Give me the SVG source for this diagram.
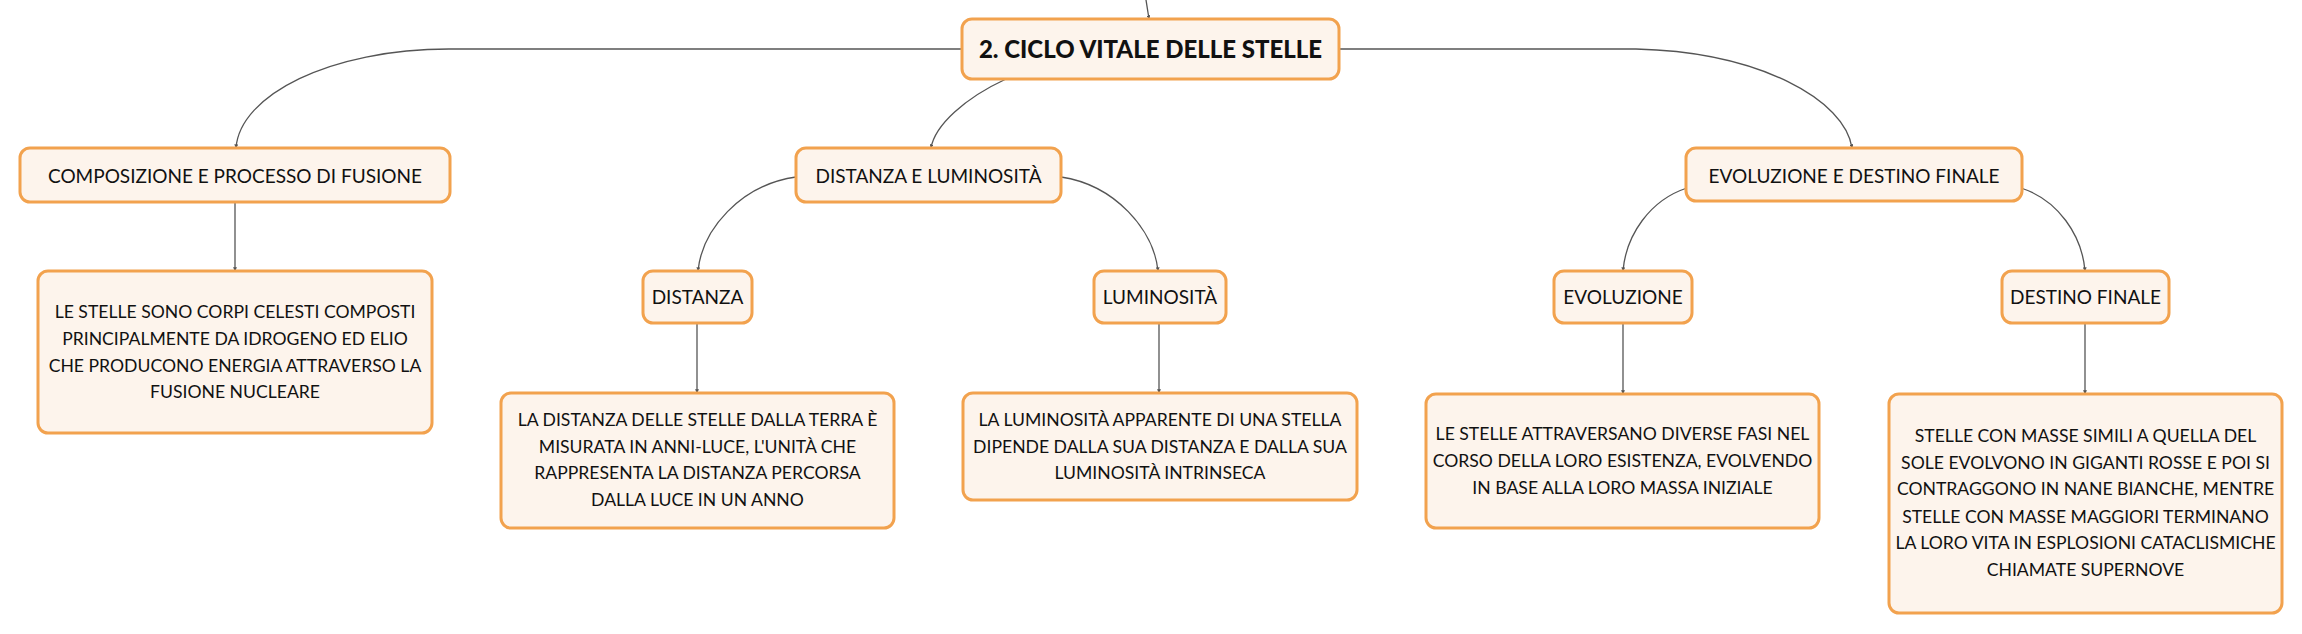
<svg xmlns="http://www.w3.org/2000/svg" width="2302" height="634" viewBox="0 0 2302 634">
<style>
.box{fill:#FDF4EC;stroke:#F2A24E;stroke-width:3}
.t{font-family:Lato,"Noto Sans",sans-serif;fill:#111;text-anchor:middle}
.lbl{font-size:19px}
.det{font-size:17.6px}
.title{font-size:24px;font-weight:900}
.edge{fill:none;stroke:#555;stroke-width:1.3}
</style>
<defs>
<marker id="ah" viewBox="0 0 6 6" refX="5.5" refY="3" markerWidth="4" markerHeight="4" orient="auto" markerUnits="userSpaceOnUse">
<path d="M0,0 L6,3 L0,6 Z" fill="#555"/>
</marker>
</defs>
<rect width="2302" height="634" fill="#fff"/>
<g id="connectors">
<path class="edge" d="M1146,0 L1149,19" marker-end="url(#ah)"/>
<path class="edge" d="M962,49 L449,49 C330,49 240,95 236,148" marker-end="url(#ah)"/>
<path class="edge" d="M1339,49 L1636,49 C1760,52 1845,100 1852,148" marker-end="url(#ah)"/>
<path class="edge" d="M1006,79 C965,98 935,125 931,148" marker-end="url(#ah)"/>
<path class="edge" d="M235,202 L235,271" marker-end="url(#ah)"/>
<path class="edge" d="M796,177 C740,185 702,230 698,271" marker-end="url(#ah)"/>
<path class="edge" d="M1061,177 C1115,185 1154,230 1158,271" marker-end="url(#ah)"/>
<path class="edge" d="M697,323 L697,393" marker-end="url(#ah)"/>
<path class="edge" d="M1159,323 L1159,393" marker-end="url(#ah)"/>
<path class="edge" d="M1687,188 C1650,200 1626,235 1623,271" marker-end="url(#ah)"/>
<path class="edge" d="M2021,188 C2058,200 2082,235 2085,271" marker-end="url(#ah)"/>
<path class="edge" d="M1623,323 L1623,394" marker-end="url(#ah)"/>
<path class="edge" d="M2085,323 L2085,394" marker-end="url(#ah)"/>
</g>
<g id="title">
<rect class="box" x="962" y="19" width="377" height="60" rx="10"/>
<text class="t title" x="1150.5" y="57.5">2. CICLO VITALE DELLE STELLE</text>
</g>
<g id="composizione">
<rect class="box" x="20" y="148" width="430" height="54" rx="10"/>
<text class="t lbl" x="235" y="182.5">COMPOSIZIONE E PROCESSO DI FUSIONE</text>
</g>
<g id="composizione-det">
<rect class="box" x="38" y="271" width="394" height="162" rx="10"/>
<text class="t det" x="235" y="318">LE STELLE SONO CORPI CELESTI COMPOSTI</text>
<text class="t det" x="235" y="345">PRINCIPALMENTE DA IDROGENO ED ELIO</text>
<text class="t det" x="235" y="371.5">CHE PRODUCONO ENERGIA ATTRAVERSO LA</text>
<text class="t det" x="235" y="398">FUSIONE NUCLEARE</text>
</g>
<g id="distlum">
<rect class="box" x="796" y="148" width="265" height="54" rx="10"/>
<text class="t lbl" x="928.5" y="182.5">DISTANZA E LUMINOSITÀ</text>
</g>
<g id="distanza">
<rect class="box" x="643" y="271" width="109" height="52" rx="10"/>
<text class="t lbl" x="697.5" y="303.5">DISTANZA</text>
</g>
<g id="distanza-det">
<rect class="box" x="501" y="393" width="393" height="135" rx="10"/>
<text class="t det" x="697.5" y="426">LA DISTANZA DELLE STELLE DALLA TERRA È</text>
<text class="t det" x="697.5" y="452.7">MISURATA IN ANNI-LUCE, L'UNITÀ CHE</text>
<text class="t det" x="697.5" y="479.3">RAPPRESENTA LA DISTANZA PERCORSA</text>
<text class="t det" x="697.5" y="506">DALLA LUCE IN UN ANNO</text>
</g>
<g id="luminosita">
<rect class="box" x="1094" y="271" width="132" height="52" rx="10"/>
<text class="t lbl" x="1160" y="303.5">LUMINOSITÀ</text>
</g>
<g id="luminosita-det">
<rect class="box" x="963" y="393" width="394" height="107" rx="10"/>
<text class="t det" x="1160" y="426">LA LUMINOSITÀ APPARENTE DI UNA STELLA</text>
<text class="t det" x="1160" y="452.7">DIPENDE DALLA SUA DISTANZA E DALLA SUA</text>
<text class="t det" x="1160" y="479.3">LUMINOSITÀ INTRINSECA</text>
</g>
<g id="evodest">
<rect class="box" x="1686" y="148" width="336" height="53" rx="10"/>
<text class="t lbl" x="1854" y="182.5">EVOLUZIONE E DESTINO FINALE</text>
</g>
<g id="evoluzione">
<rect class="box" x="1554" y="271" width="138" height="52" rx="10"/>
<text class="t lbl" x="1623" y="303.5">EVOLUZIONE</text>
</g>
<g id="evoluzione-det">
<rect class="box" x="1426" y="394" width="393" height="134" rx="10"/>
<text class="t det" x="1622.5" y="440.3">LE STELLE ATTRAVERSANO DIVERSE FASI NEL</text>
<text class="t det" x="1622.5" y="467">CORSO DELLA LORO ESISTENZA, EVOLVENDO</text>
<text class="t det" x="1622.5" y="493.7">IN BASE ALLA LORO MASSA INIZIALE</text>
</g>
<g id="destino">
<rect class="box" x="2002" y="271" width="167" height="52" rx="10"/>
<text class="t lbl" x="2085.5" y="303.5">DESTINO FINALE</text>
</g>
<g id="destino-det">
<rect class="box" x="1889" y="394" width="393" height="219" rx="10"/>
<text class="t det" x="2085.5" y="441.7">STELLE CON MASSE SIMILI A QUELLA DEL</text>
<text class="t det" x="2085.5" y="468.7">SOLE EVOLVONO IN GIGANTI ROSSE E POI SI</text>
<text class="t det" x="2085.5" y="495.3">CONTRAGGONO IN NANE BIANCHE, MENTRE</text>
<text class="t det" x="2085.5" y="522.7">STELLE CON MASSE MAGGIORI TERMINANO</text>
<text class="t det" x="2085.5" y="549.3">LA LORO VITA IN ESPLOSIONI CATACLISMICHE</text>
<text class="t det" x="2085.5" y="576">CHIAMATE SUPERNOVE</text>
</g>
</svg>
